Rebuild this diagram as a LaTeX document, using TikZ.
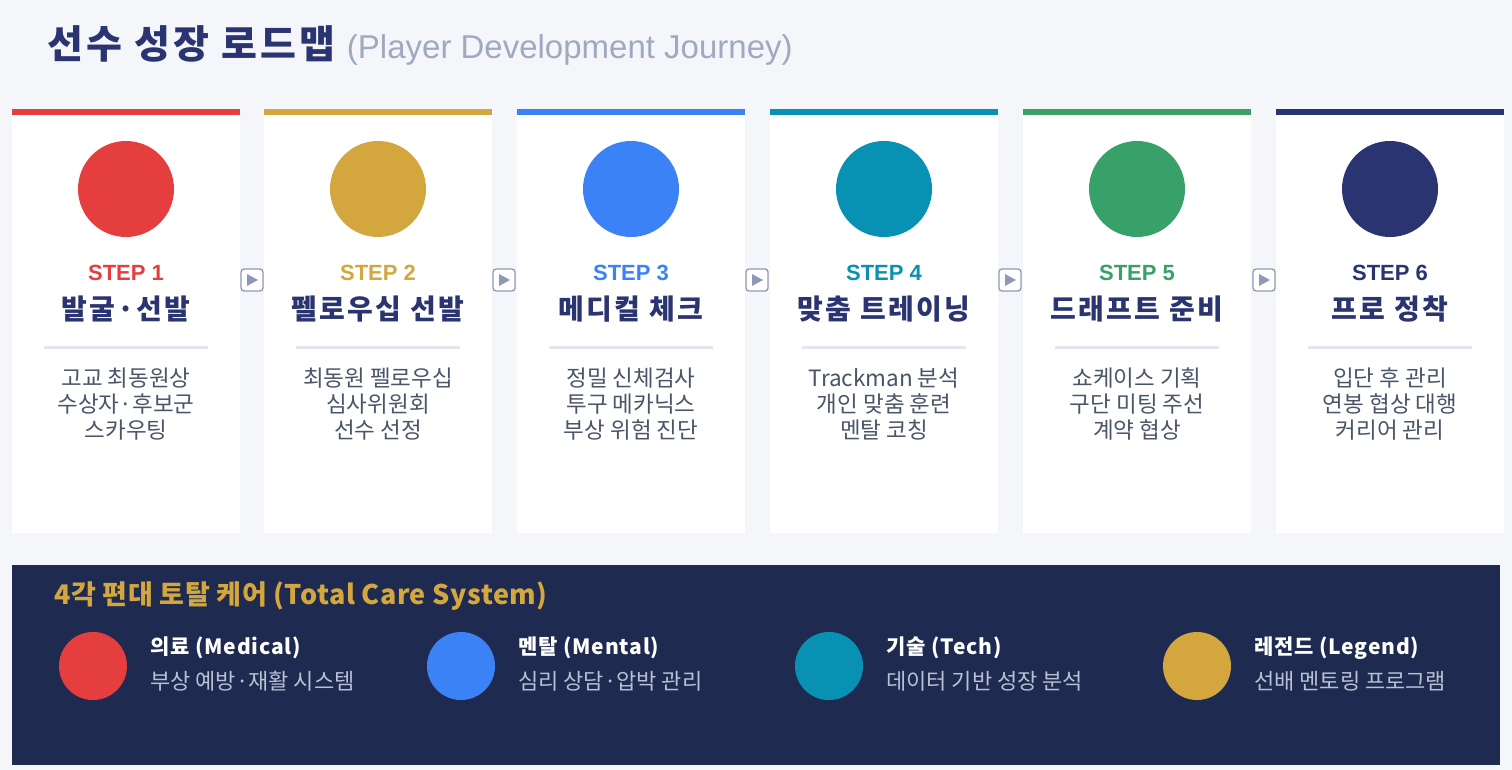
\documentclass[tikz,border=0pt]{standalone}
\usepackage{fontspec}
\setmainfont{Noto Sans CJK KR}
\newfontfamily\latin{Liberation Sans}
\begin{document}
\begin{tikzpicture}[x=1pt,y=-1pt,
  steplbl/.style={font=\fontsize{22}{26}\selectfont\bfseries\latin,anchor=center},
  ttl/.style={font=\fontsize{28}{32}\selectfont\bfseries\addfontfeature{LetterSpace=8},text=navy,anchor=center},
  body/.style={font=\fontsize{22.5}{26}\selectfont,text=txt,align=center,anchor=north},
  arr/.style={draw=arrg,line width=1.3pt,rounded corners=3pt,fill=white,minimum size=22pt,inner sep=0pt},
  blbl/.style={font=\fontsize{21}{24}\selectfont\bfseries\addfontfeature{LetterSpace=4},text=white,anchor=west},
  bsub/.style={font=\fontsize{22}{24}\selectfont,text=bsubc,anchor=west}]
\definecolor{bg}{HTML}{F5F6FA}
\definecolor{navy}{HTML}{2A3470}
\definecolor{txt}{HTML}{4A5568}
\definecolor{arrg}{HTML}{8E9AB5}
\definecolor{c1}{HTML}{E53E3E}
\definecolor{c2}{HTML}{D4A73E}
\definecolor{c3}{HTML}{3B82F6}
\definecolor{c4}{HTML}{0891B2}
\definecolor{c5}{HTML}{38A169}
\definecolor{c6}{HTML}{2A3470}
\definecolor{panel}{HTML}{1E2A4F}
\definecolor{bsubc}{HTML}{B8C0D4}
\definecolor{sep}{HTML}{E2E6EF}
\fill[bg] (0,0) rectangle (1512,770);
\useasboundingbox (0,0) rectangle (1512,770);
\node[anchor=west,inner sep=0] (title) at (47,45) {\fontsize{39}{44}\selectfont\bfseries\addfontfeature{LetterSpace=8}\color{navy}선수 성장 로드맵 \fontsize{33}{38}\selectfont\mdseries\latin\color{arrg!85}(Player Development Journey)};
\foreach \i/\x/\c/\t/\a/\b/\d in {
 1/12/c1/발굴·선발/고교 최동원상/수상자·후보군/스카우팅,
 2/264/c2/펠로우십 선발/최동원 펠로우십/심사위원회/선수 선정,
 3/517/c3/메디컬 체크/정밀 신체검사/투구 메카닉스/부상 위험 진단,
 4/770/c4/맞춤 트레이닝/Trackman 분석/개인 맞춤 훈련/멘탈 코칭,
 5/1023/c5/드래프트 준비/쇼케이스 기획/구단 미팅 주선/계약 협상,
 6/1276/c6/프로 정착/입단 후 관리/연봉 협상 대행/커리어 관리}{
  \fill[white] (\x,109) rectangle ++(228,424);
  \fill[\c] (\x,109) rectangle ++(228,6);
  \node[circle,fill=\c,minimum size=96pt,inner sep=0] (circ\i) at (\x+114,189) {};
  \node[steplbl,text=\c] (step\i) at (\x+114,273) {STEP \i};
  \node[ttl] (t\i) at (\x+114,309) {\t};
  \draw[sep,line width=3pt] (\x+32,347) -- (\x+196,347);
  \node[body] (b\i) at (\x+114,364) {\a\\\b\\\d};
}
\foreach \i/\x in {1/252,2/504,3/757,4/1010,5/1264}{
  \node[arr] (ar\i) at (\x,280) {};
  \fill[arrg] (\x-5,274) -- (\x+6,280) -- (\x-5,286) -- cycle;
}
\fill[panel] (12,565) rectangle (1500,765);
\node[anchor=west,inner sep=0,text=c2,font=\fontsize{27}{30}\selectfont\bfseries\addfontfeature{LetterSpace=2}] (ptitle) at (54,596) {4각 편대 토탈 케어 (Total Care System)};
\foreach \i/\x/\c/\l/\s in {1/93/c1/의료 (Medical)/부상 예방·재활 시스템,
 2/461/c3/멘탈 (Mental)/심리 상담·압박 관리,
 3/829/c4/기술 (Tech)/데이터 기반 성장 분석,
 4/1197/c2/레전드 (Legend)/선배 멘토링 프로그램}{
  \node[circle,fill=\c,minimum size=68pt,inner sep=0] (pc\i) at (\x,666) {};
  \node[blbl,inner sep=0] (pl\i) at (\x+57,648) {\l};
  \node[bsub,inner sep=0] (ps\i) at (\x+57,681) {\s};
}
\end{tikzpicture}
\end{document}
